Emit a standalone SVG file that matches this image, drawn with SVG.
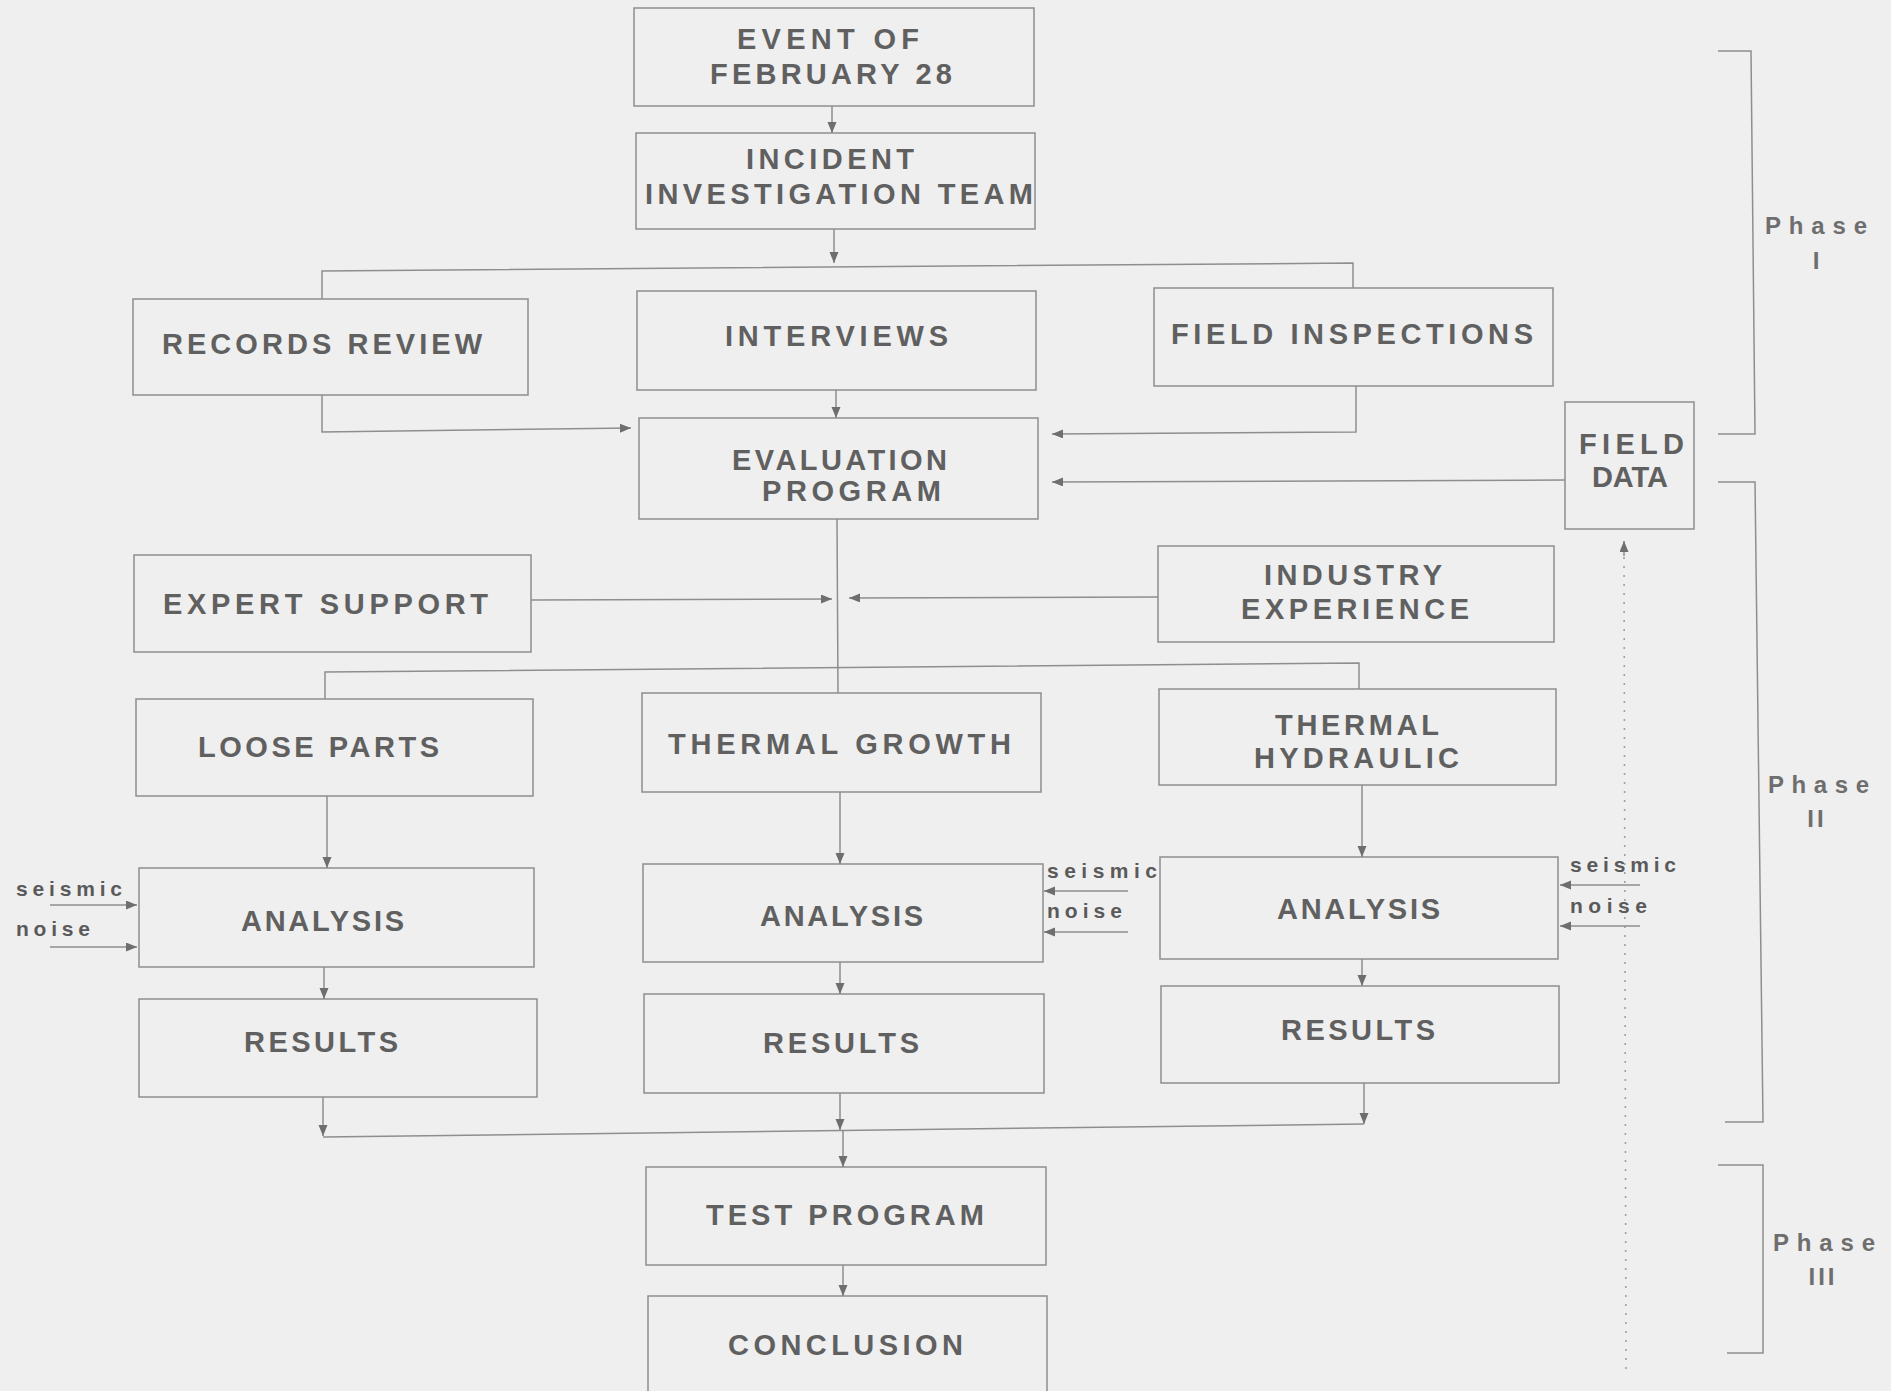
<svg xmlns="http://www.w3.org/2000/svg" width="1891" height="1391" viewBox="0 0 1891 1391">
<defs>
<style>
.box{fill:none;stroke:#8e8e8e;stroke-width:1.5}
.ln{fill:none;stroke:#8e8e8e;stroke-width:1.5}
.dot{fill:none;stroke:#a0a0a0;stroke-width:1.6;stroke-dasharray:2 7}
.t{font-family:"Liberation Sans",Arial,sans-serif;font-weight:bold;font-size:29px;fill:#606060}
.s{font-family:"Liberation Sans",Arial,sans-serif;font-weight:bold;font-size:21px;fill:#5a5a5a}
.p{font-family:"Liberation Sans",Arial,sans-serif;font-weight:bold;font-size:24px;fill:#6e6e6e}
</style>
<marker id="ah" markerUnits="userSpaceOnUse" markerWidth="12" markerHeight="10" refX="11" refY="4.5" orient="auto">
<path d="M0,0 L11,4.5 L0,9 z" fill="#6e6e6e"/>
</marker>
</defs>
<rect width="1891" height="1391" fill="#efefef"/>

<g id="event"><rect class="box" x="634" y="8" width="400" height="98"/>
<text class="t" x="737" y="49" textLength="182" lengthAdjust="spacing">EVENT OF</text>
<text class="t" x="710" y="84" textLength="242" lengthAdjust="spacing">FEBRUARY 28</text></g>

<g id="incident"><rect class="box" x="636" y="133" width="399" height="96"/>
<text class="t" x="746" y="169" textLength="168" lengthAdjust="spacing">INCIDENT</text>
<text class="t" x="645" y="204" textLength="388" lengthAdjust="spacing">INVESTIGATION TEAM</text></g>

<g id="records"><rect class="box" x="133" y="299" width="395" height="96"/>
<text class="t" x="162" y="354" textLength="320" lengthAdjust="spacing">RECORDS REVIEW</text></g>

<g id="interviews"><rect class="box" x="637" y="291" width="399" height="99"/>
<text class="t" x="725" y="346" textLength="223" lengthAdjust="spacing">INTERVIEWS</text></g>

<g id="fieldinsp"><rect class="box" x="1154" y="288" width="399" height="98"/>
<text class="t" x="1171" y="344" textLength="362" lengthAdjust="spacing">FIELD INSPECTIONS</text></g>

<g id="evaluation"><rect class="box" x="639" y="418" width="399" height="101"/>
<text class="t" x="732" y="470" textLength="215" lengthAdjust="spacing">EVALUATION</text>
<text class="t" x="762" y="501" textLength="179" lengthAdjust="spacing">PROGRAM</text></g>

<g id="fielddata"><rect class="box" x="1565" y="402" width="129" height="127"/>
<text class="t" x="1579" y="454" textLength="105" lengthAdjust="spacing">FIELD</text>
<text class="t" x="1592" y="487" textLength="76" lengthAdjust="spacing">DATA</text></g>

<g id="expert"><rect class="box" x="134" y="555" width="397" height="97"/>
<text class="t" x="163" y="614" textLength="325" lengthAdjust="spacing">EXPERT SUPPORT</text></g>

<g id="industry"><rect class="box" x="1158" y="546" width="396" height="96"/>
<text class="t" x="1264" y="585" textLength="178" lengthAdjust="spacing">INDUSTRY</text>
<text class="t" x="1241" y="619" textLength="228" lengthAdjust="spacing">EXPERIENCE</text></g>

<g id="loose"><rect class="box" x="136" y="699" width="397" height="97"/>
<text class="t" x="198" y="757" textLength="241" lengthAdjust="spacing">LOOSE PARTS</text></g>

<g id="thermalgrowth"><rect class="box" x="642" y="693" width="399" height="99"/>
<text class="t" x="668" y="754" textLength="343" lengthAdjust="spacing">THERMAL GROWTH</text></g>

<g id="thermalhyd"><rect class="box" x="1159" y="689" width="397" height="96"/>
<text class="t" x="1275" y="735" textLength="164" lengthAdjust="spacing">THERMAL</text>
<text class="t" x="1254" y="768" textLength="205" lengthAdjust="spacing">HYDRAULIC</text></g>

<g id="analysisL"><rect class="box" x="139" y="868" width="395" height="99"/>
<text class="t" x="241" y="931" textLength="163" lengthAdjust="spacing">ANALYSIS</text></g>

<g id="analysisM"><rect class="box" x="643" y="864" width="400" height="98"/>
<text class="t" x="760" y="926" textLength="163" lengthAdjust="spacing">ANALYSIS</text></g>

<g id="analysisR"><rect class="box" x="1160" y="857" width="398" height="102"/>
<text class="t" x="1277" y="919" textLength="163" lengthAdjust="spacing">ANALYSIS</text></g>

<g id="resultsL"><rect class="box" x="139" y="999" width="398" height="98"/>
<text class="t" x="244" y="1052" textLength="154" lengthAdjust="spacing">RESULTS</text></g>

<g id="resultsM"><rect class="box" x="644" y="994" width="400" height="99"/>
<text class="t" x="763" y="1053" textLength="156" lengthAdjust="spacing">RESULTS</text></g>

<g id="resultsR"><rect class="box" x="1161" y="986" width="398" height="97"/>
<text class="t" x="1281" y="1040" textLength="154" lengthAdjust="spacing">RESULTS</text></g>

<g id="test"><rect class="box" x="646" y="1167" width="400" height="98"/>
<text class="t" x="706" y="1225" textLength="278" lengthAdjust="spacing">TEST PROGRAM</text></g>

<g id="conclusion"><rect class="box" x="648" y="1296" width="399" height="110"/>
<text class="t" x="728" y="1355" textLength="235" lengthAdjust="spacing">CONCLUSION</text></g>

<g id="inputs">
<text class="s" x="16" y="896" textLength="106" lengthAdjust="spacing">seismic</text>
<text class="s" x="16" y="936" textLength="74" lengthAdjust="spacing">noise</text>
<text class="s" x="1047" y="878" textLength="110" lengthAdjust="spacing">seismic</text>
<text class="s" x="1047" y="918" textLength="75" lengthAdjust="spacing">noise</text>
<text class="s" x="1570" y="872" textLength="106" lengthAdjust="spacing">seismic</text>
<text class="s" x="1570" y="913" textLength="77" lengthAdjust="spacing">noise</text>
</g>

<g id="phases">
<path class="ln" d="M1718,51 L1751,51 L1755,434 L1718,434"/>
<path class="ln" d="M1718,482 L1755,482 L1763,1122 L1725,1122"/>
<path class="ln" d="M1718,1165 L1763,1165 L1763,1353 L1727,1353"/>
<text class="p" x="1765" y="234" textLength="102" lengthAdjust="spacing">Phase</text>
<text class="p" x="1816" y="269" text-anchor="middle">I</text>
<text class="p" x="1768" y="793" textLength="101" lengthAdjust="spacing">Phase</text>
<text class="p" x="1817" y="827" text-anchor="middle" letter-spacing="3">II</text>
<text class="p" x="1773" y="1251" textLength="102" lengthAdjust="spacing">Phase</text>
<text class="p" x="1823" y="1285" text-anchor="middle" letter-spacing="3">III</text>
</g>

<g id="connectors">
<path class="ln" d="M832,106 L832,133" marker-end="url(#ah)"/>
<path class="ln" d="M834,229 L834,263" marker-end="url(#ah)"/>
<path class="ln" d="M322,299 L322,271 L1353,263 L1353,288"/>
<path class="ln" d="M322,395 L322,432 L631,428" marker-end="url(#ah)"/>
<path class="ln" d="M836,390 L836,418" marker-end="url(#ah)"/>
<path class="ln" d="M1356,386 L1356,432 L1052,434" marker-end="url(#ah)"/>
<path class="ln" d="M1565,480 L1052,482" marker-end="url(#ah)"/>
<path class="dot" d="M1626,1369 L1624,552"/>
<path class="ln" d="M1624,556 L1624,541" marker-end="url(#ah)"/>
<path class="ln" d="M837,519 L838,693"/>
<path class="ln" d="M531,600 L832,599" marker-end="url(#ah)"/>
<path class="ln" d="M1158,597 L849,598" marker-end="url(#ah)"/>
<path class="ln" d="M325,699 L325,672 L1359,663 L1359,689"/>
<path class="ln" d="M327,796 L327,868" marker-end="url(#ah)"/>
<path class="ln" d="M840,792 L840,864" marker-end="url(#ah)"/>
<path class="ln" d="M1362,785 L1362,857" marker-end="url(#ah)"/>
<path class="ln" d="M324,967 L324,999" marker-end="url(#ah)"/>
<path class="ln" d="M840,962 L840,994" marker-end="url(#ah)"/>
<path class="ln" d="M1362,959 L1362,986" marker-end="url(#ah)"/>
<path class="ln" d="M323,1097 L323,1136" marker-end="url(#ah)"/>
<path class="ln" d="M840,1093 L840,1130" marker-end="url(#ah)"/>
<path class="ln" d="M1364,1083 L1364,1124" marker-end="url(#ah)"/>
<path class="ln" d="M323,1137 L1364,1124"/>
<path class="ln" d="M843,1131 L843,1167" marker-end="url(#ah)"/>
<path class="ln" d="M843,1265 L843,1296" marker-end="url(#ah)"/>
<path class="ln" d="M50,905 L137,905" marker-end="url(#ah)"/>
<path class="ln" d="M50,947 L137,947" marker-end="url(#ah)"/>
<path class="ln" d="M1128,891 L1044,891" marker-end="url(#ah)"/>
<path class="ln" d="M1128,932 L1044,932" marker-end="url(#ah)"/>
<path class="ln" d="M1640,885 L1560,885" marker-end="url(#ah)"/>
<path class="ln" d="M1640,926 L1560,926" marker-end="url(#ah)"/>
</g>
</svg>
